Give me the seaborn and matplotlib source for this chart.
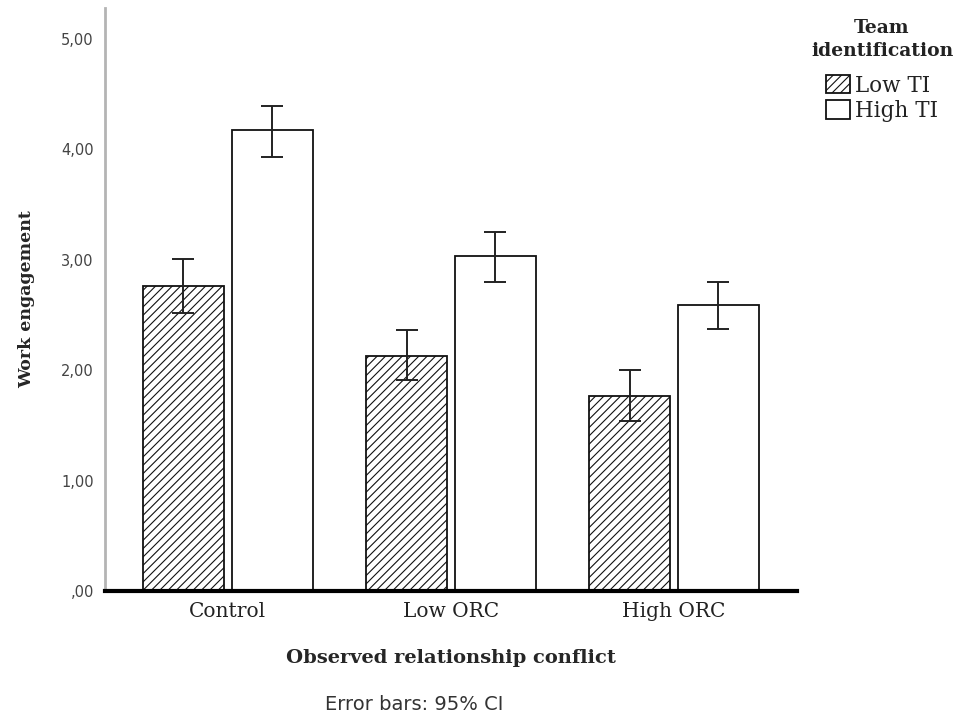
import pandas as pd
import seaborn as sns
import matplotlib.pyplot as plt

sns.set_style("white")

# =========================
# Data
# =========================
conditions = ["Control", "Low ORC", "High ORC"]
ti_levels = ["Low TI", "High TI"]

low_ti_mean = [2.76, 2.13, 1.77]
low_ti_lo = [2.52, 1.91, 1.54]
low_ti_hi = [3.01, 2.36, 2.00]

high_ti_mean = [4.17, 3.03, 2.59]
high_ti_lo = [3.93, 2.80, 2.37]
high_ti_hi = [4.39, 3.25, 2.80]

ytick_vals = [0, 1, 2, 3, 4, 5]
ytick_labels = [",00", "1,00", "2,00", "3,00", "4,00", "5,00"]

df = pd.DataFrame({
    "condition": conditions * 2,
    "ti": [ti_levels[0]] * 3 + [ti_levels[1]] * 3,
    "mean": low_ti_mean + high_ti_mean,
    "lo": low_ti_lo + high_ti_lo,
    "hi": low_ti_hi + high_ti_hi,
})

serif = ["DejaVu Serif"]
sans = ["DejaVu Sans"]

plt.rcParams["hatch.linewidth"] = 0.8
plt.rcParams["hatch.color"] = "#3a3a3a"

fig = plt.figure(figsize=(9.59, 7.19), dpi=100)
ax = fig.add_axes([0.1095, 0.178, 0.7215, 0.811])

sns.barplot(
    data=df, x="condition", y="mean", hue="ti",
    order=conditions, hue_order=ti_levels,
    palette=["white", "white"], edgecolor="#111111", linewidth=1.3,
    width=0.794, gap=0.085, errorbar=None, legend=False, ax=ax,
)

# hatch the Low TI bars and draw the 95% CI whiskers on each bar
bar_containers = list(ax.containers)
hatches = ["////", ""]
for cont, level, h in zip(bar_containers, ti_levels, hatches):
    sub = df[df["ti"] == level].set_index("condition").loc[conditions]
    xs = []
    for p in cont.patches:
        p.set_hatch(h)
        xs.append(p.get_x() + p.get_width() / 2)
    ax.errorbar(
        xs, sub["mean"],
        yerr=[sub["mean"] - sub["lo"], sub["hi"] - sub["mean"]],
        fmt="none", ecolor="#222222", elinewidth=1.4, capsize=8, capthick=1.4,
    )

ax.set_xlim(-0.55, 2.55)
ax.set_ylim(0, 5.28)
ax.set_yticks(ytick_vals)
ax.set_yticklabels(ytick_labels, family=sans, fontsize=10.5, color="#444444")
ax.set_xticks(range(len(conditions)))
ax.set_xticklabels(conditions, family=serif, fontsize=14.5, color="#222222")
ax.tick_params(axis="x", length=0, pad=8)
ax.tick_params(axis="y", length=0, pad=8)

for s in ["top", "right"]:
    ax.spines[s].set_visible(False)
ax.spines["left"].set_color("#b4b4b4")
ax.spines["left"].set_linewidth(2)
ax.spines["bottom"].set_color("black")
ax.spines["bottom"].set_linewidth(3)

ax.set_xlabel("Observed relationship conflict", family=serif, fontsize=14,
              fontweight="bold", labelpad=20)
ax.set_ylabel("Work engagement", family=serif, fontsize=12.5,
              fontweight="bold", labelpad=19)

# legend title drawn separately so its gap to the entries matches SPSS
fig.text(882 / 959, 1 - 39.5 / 719, "Team\nidentification", family=serif,
         fontsize=13.5, fontweight="bold", color="#222222",
         ha="center", va="center", multialignment="center", linespacing=1.35)

handles = [c.patches[0] for c in bar_containers]
leg = fig.legend(
    handles, ti_levels, loc="upper center", bbox_to_anchor=(882 / 959, 1 - 64 / 719),
    frameon=False, borderpad=0,
    prop={"family": serif, "size": 15.5},
    handlelength=1.15, handleheight=0.93, handletextpad=0.23, labelspacing=0.15,
)
for t in leg.get_texts():
    t.set_color("#222222")

fig.text(414 / 959, 1 - 705 / 719, "Error bars: 95% CI", family=sans,
         fontsize=14, color="#333333", ha="center", va="center")

fig.savefig("out.png", dpi=100)
